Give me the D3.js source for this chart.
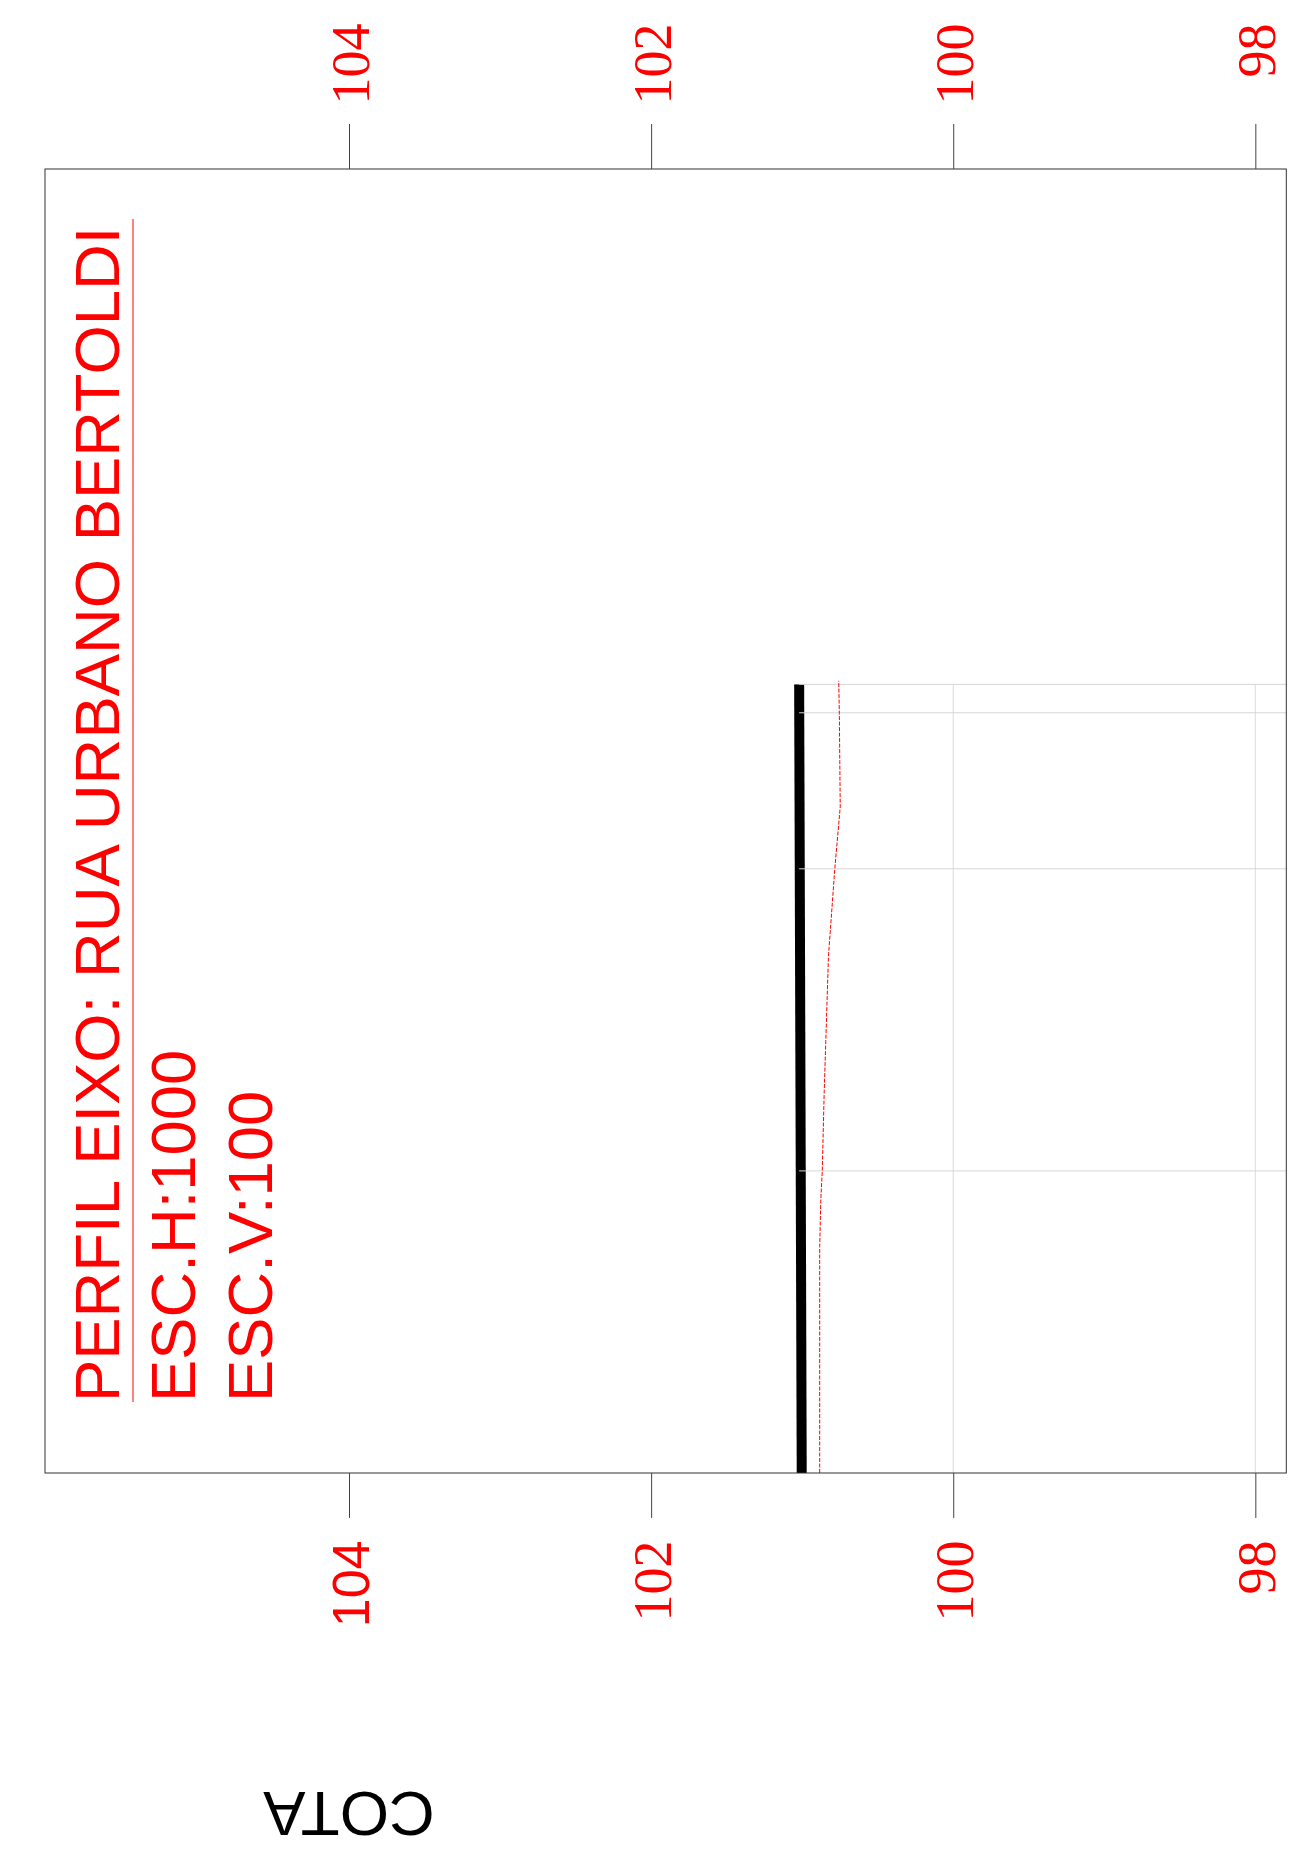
<!DOCTYPE html>
<html>
<head>
<meta charset="utf-8">
<script src="https://cdn.jsdelivr.net/npm/d3@7"></script>
<style>
	html, body { margin: 0; padding: 0; background: #fff; }
	svg { display: block; }
</style>
</head>
<body>
<svg id="chart"></svg>
<script>
const SVG_WIDTH = 1304;
const SVG_HEIGHT = 1850;
const PLOT_LEFT = 45;
const PLOT_RIGHT = 1286.3;
const PLOT_TOP = 169;
const PLOT_BOTTOM = 1473;
const TICK_LEN = 45;
const RED = "#ff0000";
const SANS = "'Liberation Sans', Arial, sans-serif";
const SERIF = "'Liberation Serif', 'Times New Roman', serif";

// texts
const titleLines = ["PERFIL EIXO: RUA URBANO BERTOLDI", "ESC.H:1000", "ESC.V:100"];
const axisTitle = "COTA";

// cota axis (drawn horizontally, page is turned)
const cotaTicks = [104, 102, 100, 98];
const gridCota = [100, 98];
// distance stations (m) with grid lines
const stations = [20, 40, 50.33, 52.21];

// thick black profile
const terrainDist = [0, 52.21];
const terrainCota = [101.003, 101.02];

// red dashed profile
const greideDist = [0, 15, 18, 20, 25.3, 29.1, 34.2, 40, 44.1, 50.3, 52.45];
const greideCota = [100.884, 100.884, 100.877, 100.867, 100.854, 100.842, 100.826, 100.784, 100.748, 100.754, 100.758];

const svg = d3.select("#chart")
	.attr("width", SVG_WIDTH)
	.attr("height", SVG_HEIGHT);

const xScale = d3.scaleLinear()
	.domain([106.0126, 97.795])
	.range([PLOT_LEFT, PLOT_RIGHT]);
const yScale = d3.scaleLinear()
	.domain([0, 86.33])
	.range([PLOT_BOTTOM, PLOT_TOP]);

const lastStation = d3.max(stations);
const gridLeft = xScale(d3.max(terrainCota));

// thick black line
const terrain = terrainDist.map((d, i) => ({dist: d, cota: terrainCota[i]}));
const greide = greideDist.map((d, i) => ({dist: d, cota: greideCota[i]}));
const line = d3.line()
	.x(d => xScale(d.cota))
	.y(d => yScale(d.dist));

// vertical grid lines
svg.append("g").selectAll("line")
	.data(gridCota)
	.enter()
	.append("line")
	.attr("x1", d => xScale(d)).attr("x2", d => xScale(d))
	.attr("y1", yScale(lastStation)).attr("y2", yScale(0))
	.attr("stroke", "#dcdcdc").attr("stroke-width", 1);

svg.append("path")
	.datum(terrain)
	.attr("d", line)
	.attr("fill", "none")
	.attr("stroke", "#000")
	.attr("stroke-width", 10);

// horizontal grid lines (stations), over the black line
svg.append("g").selectAll("line")
	.data(stations)
	.enter()
	.append("line")
	.attr("x1", gridLeft).attr("x2", PLOT_RIGHT)
	.attr("y1", d => yScale(d)).attr("y2", d => yScale(d))
	.attr("stroke", "#d6d6d6").attr("stroke-width", 1);

// red dashed line
svg.append("path")
	.datum(greide)
	.attr("d", line)
	.attr("fill", "none")
	.attr("stroke", RED)
	.attr("stroke-width", 1)
	.attr("stroke-dasharray", "4, 1.5");

// plot frame
svg.append("rect")
	.attr("x", PLOT_LEFT).attr("y", PLOT_TOP)
	.attr("width", PLOT_RIGHT - PLOT_LEFT).attr("height", PLOT_BOTTOM - PLOT_TOP)
	.attr("fill", "none").attr("stroke", "#333").attr("stroke-width", 1);

// axes
const topAxis = svg.append("g")
	.attr("transform", "translate(0," + PLOT_TOP + ")")
	.call(d3.axisTop(xScale).tickValues(cotaTicks).tickSize(TICK_LEN).tickFormat(d3.format("d")));
const bottomAxis = svg.append("g")
	.attr("transform", "translate(0," + PLOT_BOTTOM + ")")
	.call(d3.axisBottom(xScale).tickValues(cotaTicks).tickSize(TICK_LEN).tickFormat(d3.format("d")));

[topAxis, bottomAxis].forEach(function(ax) {
	ax.select(".domain").remove();
	ax.selectAll(".tick line").attr("stroke", "#444").attr("stroke-width", 1);
	ax.selectAll(".tick text")
		.attr("x", 0).attr("y", 0).attr("dy", null)
		.attr("fill", RED)
		.attr("text-anchor", "end")
		.style("font-family", SERIF)
		.style("font-size", "54px");
});
topAxis.selectAll(".tick text")
	.attr("transform", "translate(19," + (23.5 - PLOT_TOP) + ") rotate(-90)");
bottomAxis.selectAll(".tick text")
	.attr("transform", "translate(19," + (1540.5 - PLOT_BOTTOM) + ") rotate(-90)");
// the first label of the lower axis is set in a sans font
bottomAxis.selectAll(".tick text")
	.filter(d => d === cotaTicks[0])
	.style("font-family", SANS)
	.style("font-size", "52px");

// title block
const titleBase = [119, 195, 272];
const titleStart = 1402;
titleLines.forEach(function(t, i) {
	svg.append("text")
		.attr("transform", "translate(" + titleBase[i] + "," + titleStart + ") rotate(-90)")
		.attr("text-anchor", "start")
		.attr("fill", RED)
		.style("font-family", SANS)
		.style("font-size", "63.4px")
		.text(t);
});
const titleNode = svg.select("text:nth-last-of-type(3)");
svg.append("line")
	.attr("x1", 133).attr("x2", 133)
	.attr("y1", titleStart).attr("y2", 219)
	.attr("stroke", RED).attr("stroke-width", 1);

// axis title, upside down
svg.append("text")
	.attr("transform", "translate(349,1792) rotate(180)")
	.attr("text-anchor", "middle")
	.attr("fill", "#000")
	.style("font-family", SANS)
	.style("font-size", "63.4px")
	.text(axisTitle);
</script>
</body>
</html>
